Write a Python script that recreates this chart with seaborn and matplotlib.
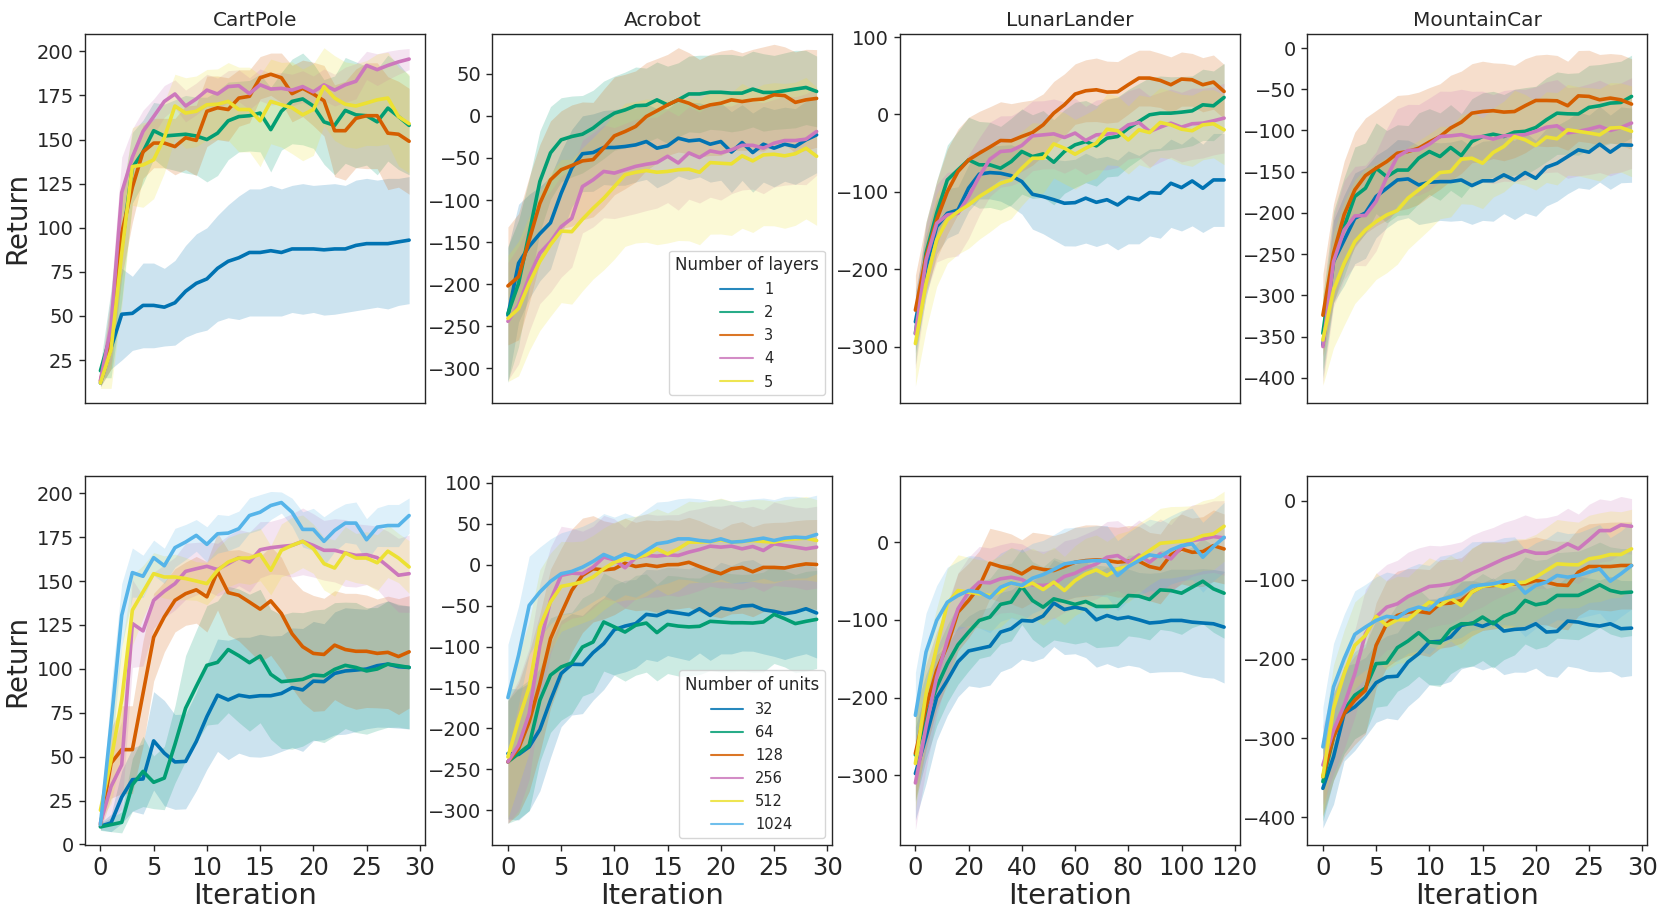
import matplotlib
matplotlib.use("Agg")
import matplotlib.pyplot as plt
import numpy as np
import pandas as pd
import seaborn as sns
from matplotlib.lines import Line2D

# ---------------- data ----------------
ITER_30 = list(range(30))
ITER_LL = list(range(0, 120, 4))

LAYER_LABELS = ["1", "2", "3", "4", "5"]
UNIT_LABELS = ["32", "64", "128", "256", "512", "1024"]

ENV_TITLES = ["CartPole", "Acrobot", "LunarLander", "MountainCar"]

# ---- top row: number of layers ----
CP_LAYERS_MEAN = {
    "1": [12, 32, 51, 51.5, 56, 56, 55, 57.5, 64, 68.5, 71, 77, 81, 83, 86, 86, 87, 86, 88, 88, 88, 87.5, 88, 88, 90, 91, 91, 91, 92, 93],
    "2": [19, 40, 89, 134, 143, 155, 152, 152.5, 153, 152, 150, 153.6, 160.6, 163, 163.5, 165, 155.6, 166, 171.6, 173, 169, 160, 158, 166.5, 164, 163.5, 160, 167.8, 163, 158],
    "3": [13, 40, 97, 123, 143, 148, 148, 146, 151, 149.5, 166, 168, 167, 173.5, 174.5, 185, 187, 185, 176, 179, 175.8, 172, 155, 155, 162, 163.5, 163.5, 153.6, 153, 149],
    "4": [13.6, 44, 120, 140, 154.6, 163, 171.6, 175.8, 169, 173, 178, 175.8, 180, 180.5, 176, 181, 178.6, 179, 178, 180, 177, 181, 178, 181, 183, 192, 189.6, 192, 194, 195.6],
    "5": [12, 31, 85.5, 134.7, 135.6, 138.5, 151, 169, 165, 166, 169.7, 170, 171.6, 167, 167, 160.6, 171.6, 169.7, 168, 164, 167, 180, 173.5, 170, 169, 170.7, 172.5, 173.5, 163, 159],
}
CP_LAYERS_SD = {
    "1": [2, 12, 26, 21, 24, 24, 22, 24, 26, 28, 29, 30, 32, 35, 36, 36, 37, 36, 36, 37, 36, 37, 37, 36, 37, 37, 36, 37, 36, 36],
    "2": [4, 25, 30, 20, 18, 16, 18, 20, 22, 22, 24, 24, 22, 20, 20, 22, 24, 22, 24, 26, 24, 24, 28, 30, 30, 28, 30, 30, 30, 28],
    "3": [3, 20, 25, 20, 15, 14, 14, 16, 18, 20, 20, 18, 18, 16, 15, 12, 12, 14, 16, 16, 18, 20, 26, 28, 28, 30, 30, 32, 30, 30],
    "4": [3, 20, 20, 16, 12, 10, 9, 8, 9, 9, 9, 9, 9, 9, 9, 9, 9, 9, 9, 9, 9, 9, 9, 10, 10, 8, 9, 8, 7, 6],
    "5": [3, 22, 30, 22, 24, 22, 20, 18, 20, 20, 20, 20, 22, 24, 24, 26, 24, 24, 26, 26, 26, 22, 24, 24, 24, 24, 26, 26, 28, 28],
}

AC_LAYERS_MEAN = {
    "1": [-237, -175, -155, -140, -127, -92, -62, -45, -43.6, -37.6, -37.6, -36.4, -34.5, -30.5, -38.4, -35.6, -26.5, -29.7, -28.5, -33.7, -30.5, -43, -31.7, -43.6, -33.7, -38.4, -33.7, -36.4, -28.5, -22.6],
    "2": [-235, -199, -139.5, -78, -44, -28.5, -24.5, -21.8, -14.6, -4.7, 3.2, 7, 12, 12.7, 19, 13, 19, 26, 26, 28, 28, 27, 27, 31.8, 27.8, 27.8, 29.8, 31.8, 33.7, 29],
    "3": [-202, -191, -147.5, -104, -76, -64, -59, -53.5, -52, -38.4, -23.8, -18.6, -12.6, -0.8, 6, 13, 19, 15, 9, 13, 15, 19, 17, 19, 20, 25, 24, 16, 19, 20.7],
    "4": [-244, -225, -191, -163, -149.5, -131.6, -121.7, -84, -76, -66, -68, -64, -60, -57.5, -55.5, -48, -56, -44, -49.5, -41.6, -44, -40.4, -35, -35, -38.4, -32.5, -29.3, -29.3, -27.7, -18.6],
    "5": [-240.6, -228.8, -199, -173, -153, -136.8, -137.6, -122.9, -109.8, -97.9, -84, -70, -67, -65, -67, -66, -64, -63.4, -67, -55.5, -56.3, -57, -47.5, -53.5, -46.4, -45.6, -47.5, -45, -38.4, -48],
}
AC_LAYERS_SD = {
    "1": [80, 70, 62, 56, 55, 50, 46, 45, 46, 44, 45, 46, 44, 45, 47, 44, 45, 46, 44, 45, 46, 48, 45, 47, 45, 46, 44, 45, 46, 45],
    "2": [80, 75, 65, 60, 55, 50, 48, 46, 45, 46, 44, 45, 46, 44, 45, 46, 44, 45, 46, 44, 45, 46, 44, 45, 46, 44, 45, 46, 44, 42],
    "3": [70, 75, 75, 70, 70, 70, 72, 70, 68, 70, 70, 68, 66, 64, 62, 60, 62, 60, 58, 60, 62, 60, 58, 60, 62, 60, 58, 60, 60, 58],
    "4": [70, 70, 65, 60, 60, 60, 58, 55, 56, 55, 54, 55, 56, 55, 54, 55, 56, 55, 54, 55, 56, 52, 53, 52, 54, 52, 53, 52, 54, 52],
    "5": [75, 80, 80, 82, 85, 85, 86, 85, 84, 85, 86, 85, 84, 85, 86, 85, 84, 85, 86, 85, 84, 85, 86, 85, 84, 85, 86, 85, 84, 82],
}

LL_LAYERS_MEAN = {
    "1": [-267.7, -196.5, -144.8, -127.6, -123.3, -95, -77, -75, -75.9, -79, -86.6, -103, -106, -110, -114.6, -113.8, -108, -113.4, -110, -116.8, -107, -110, -100.8, -101.7, -88.8, -94.4, -85.8, -95.3, -84.5, -84.5],
    "2": [-282.8, -179, -127.6, -84.5, -71.5, -58.6, -65, -65, -69.4, -60.8, -47.8, -54.3, -50.9, -61.6, -47.8, -39.2, -35, -40.5, -30.6, -28.4, -17.7, -9, -0.4, 1.7, 1.7, 3, 4.7, 12.5, 11.2, 22],
    "3": [-252.6, -183.6, -136, -99.6, -73.7, -58.6, -50, -42, -33.6, -34, -28.4, -23.3, -13.4, 1.7, 12.5, 26.3, 30.6, 31.9, 28.9, 29.3, 38.4, 47, 47, 44, 38.4, 45.7, 44.8, 38.4, 41.8, 29.7],
    "4": [-283, -188, -140.5, -129.7, -127.6, -106, -80, -57.8, -47.8, -46.6, -40, -27.6, -26.3, -25, -29.7, -24, -33.6, -26.3, -25.4, -23.3, -13.4, -10.3, -22, -16.4, -11.2, -16.4, -12, -11.2, -8.2, -4.7],
    "5": [-295.7, -218, -162, -136, -125.4, -116.8, -106, -97.4, -88.8, -84.5, -69.4, -56.5, -56.5, -38, -43.5, -51.3, -43.5, -37, -19, -21, -32.8, -19.8, -23.3, -10.3, -13.4, -19, -21, -13.4, -12, -19.8],
}
LL_LAYERS_SD = {
    "1": [40, 40, 35, 32, 30, 30, 32, 34, 36, 40, 42, 45, 48, 52, 55, 56, 58, 57, 56, 58, 60, 57, 56, 58, 57, 56, 58, 57, 60, 60],
    "2": [40, 40, 42, 45, 50, 55, 56, 55, 54, 56, 55, 54, 56, 55, 54, 55, 53, 52, 50, 51, 50, 49, 48, 48, 47, 46, 45, 46, 45, 44],
    "3": [45, 45, 50, 55, 55, 55, 54, 52, 50, 48, 45, 42, 40, 41, 40, 39, 40, 41, 40, 39, 38, 36, 36, 35, 36, 35, 34, 35, 35, 35],
    "4": [45, 45, 50, 55, 55, 54, 50, 48, 46, 45, 46, 45, 44, 45, 46, 45, 44, 45, 46, 45, 44, 45, 46, 45, 44, 45, 46, 45, 44, 45],
    "5": [55, 60, 60, 56, 55, 56, 55, 54, 52, 50, 48, 46, 45, 44, 46, 45, 44, 45, 46, 45, 44, 45, 46, 45, 44, 45, 46, 45, 44, 45],
}

MC_LAYERS_MEAN = {
    "1": [-360, -259, -233, -206.5, -200, -180, -170, -160, -158.7, -166, -162.8, -162, -162, -160, -166.8, -161, -161, -153.8, -160, -151, -158, -144.5, -139.7, -131.6, -123.5, -126.3, -116.6, -126.3, -117.4, -117.8],
    "2": [-346, -253, -216.6, -180, -170, -145.7, -156, -148, -148, -133.6, -125.5, -131.6, -120.6, -130.4, -113.4, -107.3, -104.5, -107.3, -102, -101, -96.4, -87, -79, -79.8, -80, -72, -70, -66.8, -66, -58.7],
    "3": [-324, -249, -202, -172, -154.7, -145.7, -137.7, -127.5, -125.5, -121.5, -114, -107.3, -97, -90, -79, -77, -76, -77.7, -77, -70, -63.6, -63.6, -64, -70, -58, -58.7, -62.8, -60.7, -62.8, -68],
    "4": [-362, -259, -220.6, -203.6, -203, -186, -156.7, -131.6, -124.3, -123.5, -116.6, -107.3, -106.5, -105, -108.5, -107.3, -110.5, -106.5, -106, -105, -101, -96, -94.3, -103, -101, -98.4, -95, -100, -96.4, -91],
    "5": [-354, -293.5, -261, -234.8, -220.6, -210.5, -202.4, -197, -182, -172, -162, -151, -149.8, -134.8, -133.6, -139.7, -126.7, -119.4, -107.3, -111.3, -118.2, -108, -110, -99.2, -101, -103, -105.3, -97, -96.4, -101],
}
MC_LAYERS_SD = {
    "1": [40, 50, 55, 55, 55, 50, 48, 49, 47, 48, 49, 47, 48, 49, 47, 48, 49, 47, 48, 49, 46, 47, 46, 45, 46, 45, 46, 45, 46, 45],
    "2": [45, 55, 60, 60, 55, 55, 56, 55, 54, 55, 52, 53, 52, 51, 52, 53, 52, 51, 52, 53, 50, 51, 50, 49, 50, 51, 50, 49, 50, 50],
    "3": [50, 60, 65, 70, 70, 70, 71, 70, 69, 68, 66, 64, 64, 62, 60, 61, 58, 59, 56, 57, 55, 56, 55, 54, 55, 56, 55, 54, 55, 55],
    "4": [45, 55, 60, 60, 61, 60, 59, 58, 56, 55, 56, 55, 54, 55, 56, 55, 54, 55, 56, 55, 54, 55, 56, 55, 54, 55, 56, 55, 54, 55],
    "5": [55, 70, 75, 75, 75, 70, 70, 65, 62, 60, 58, 56, 55, 54, 56, 55, 54, 55, 56, 55, 54, 55, 56, 55, 54, 55, 56, 55, 54, 55],
}

# ---- bottom row: number of units ----
CP_UNITS_MEAN = {
    "32": [10.4, 12.3, 27, 36.9, 37.3, 59, 52, 47, 47.3, 58.6, 72.8, 85, 82.3, 85, 84, 84.7, 84.7, 86, 89.3, 88, 93, 92.7, 97.4, 98.8, 99.3, 99.9, 101.8, 102.7, 101.2, 100.8],
    "64": [10, 11.3, 12.6, 34, 41.6, 35.4, 37.8, 57, 77.6, 90, 102, 103.7, 111, 107.5, 103.5, 107.3, 96.9, 92.7, 93.3, 94, 96.5, 96, 99.7, 102, 100.8, 98.8, 99.9, 102.7, 101.8, 100.8],
    "128": [11.3, 46.3, 54, 54, 86, 118, 129.6, 139, 142.8, 145, 141, 155.5, 143.4, 141.9, 138, 134, 138.7, 131.5, 120, 112.6, 108.8, 108.2, 113.5, 111, 110, 110, 108.8, 109.4, 107, 109.7],
    "256": [12.3, 33, 45.4, 125.8, 121.6, 139, 144.2, 148.5, 155.5, 157, 158.4, 156.5, 159.9, 163.3, 160.8, 167.8, 169, 169.7, 170.3, 172.6, 170.3, 167.5, 167.5, 166, 164.6, 165, 163.3, 158.4, 153.3, 154.2],
    "512": [19.5, 48.2, 82.3, 133.4, 143.8, 154.2, 152.3, 152.3, 151.4, 150, 148.5, 156.1, 160.8, 163.1, 163.1, 165.2, 156.1, 167.5, 170.3, 172.6, 168.4, 159.9, 157.4, 166, 163.1, 163.1, 160.4, 167, 163.1, 158],
    "1024": [11.3, 69, 130.5, 154.8, 152.7, 163.3, 158.7, 169, 172.2, 176, 170.9, 176.9, 177.3, 179.8, 187.3, 189.2, 193, 194.7, 189.2, 179.4, 179.4, 172.6, 178.8, 183, 183, 173.5, 180.7, 181.6, 181.6, 187.3],
}
CP_UNITS_SD = {
    "32": [2, 5, 15, 18, 20, 28, 30, 27, 27, 28, 30, 32, 34, 33, 34, 35, 34, 33, 34, 35, 34, 33, 35, 36, 35, 34, 35, 36, 35, 35],
    "64": [2, 4, 6, 15, 20, 15, 18, 22, 30, 32, 34, 35, 36, 38, 39, 38, 37, 38, 39, 38, 37, 38, 38, 36, 37, 36, 35, 36, 35, 35],
    "128": [3, 20, 25, 25, 30, 25, 20, 18, 18, 19, 20, 22, 24, 26, 28, 30, 31, 32, 31, 32, 33, 32, 31, 32, 33, 32, 31, 32, 33, 32],
    "256": [3, 20, 25, 25, 20, 16, 15, 15, 16, 15, 14, 15, 16, 16, 17, 16, 15, 16, 18, 19, 18, 17, 18, 19, 18, 17, 18, 20, 21, 22],
    "512": [5, 25, 30, 20, 15, 12, 12, 13, 12, 11, 12, 13, 14, 14, 15, 15, 14, 15, 16, 15, 14, 15, 16, 15, 14, 15, 16, 15, 14, 15],
    "1024": [2, 20, 18, 14, 12, 10, 10, 11, 10, 9, 10, 11, 10, 10, 10, 10, 8, 6, 8, 10, 12, 14, 12, 11, 12, 12, 11, 12, 12, 10],
}

AC_UNITS_MEAN = {
    "32": [-230.8, -232, -222.6, -201.5, -165.7, -133, -121.7, -122, -107.5, -96.5, -79.4, -75, -72, -60.7, -62.3, -57, -59, -61, -53.8, -62, -53, -55, -50.5, -49.7, -55, -57, -59.9, -57.9, -53.8, -59],
    "64": [-241, -230.8, -220.6, -165.7, -135, -125, -120, -100.6, -94.5, -70, -76, -82.3, -74, -71.3, -83, -73, -75, -76, -75.3, -69.2, -70, -70.9, -70.9, -71.3, -70, -60.7, -66, -72, -69.2, -66.8],
    "128": [-241, -224.7, -192, -145.3, -90.4, -59.9, -31.4, -13, -5, -6.3, -5, 1.8, -2.2, -0.2, -2.2, 0, 0.2, 3, -2.2, -7, -11, -5, -3.3, -8.6, -3.3, -3.3, -4, -1.2, 1, 0.3],
    "256": [-241, -220.6, -182, -98.6, -43.6, -13, -10.3, -11, -3, 9.3, 6, -3.7, 8.4, 11.3, 10.5, 12, 11.3, 15.4, 18.6, 22.7, 21.5, 22.7, 19.4, 22.3, 17.4, 25.6, 23.5, 21.5, 19.4, 21.5],
    "512": [-235, -190, -149.4, -76, -45.6, -26.5, -24, -21, -15, -5, 3, 7, 8.4, 12, 19.4, 13.2, 19.4, 27.6, 27.6, 28.4, 30.4, 27.6, 28.4, 29.6, 28.4, 27.6, 30.4, 31.6, 32.5, 29.6],
    "1024": [-162.4, -110.7, -49.7, -33.4, -20.4, -11, -8.2, -3, 4, 12.5, 7.2, 13.3, 9.3, 17.4, 25.6, 27.6, 31.6, 31.6, 29.6, 28.4, 31.6, 27.6, 28.4, 30.4, 32.5, 29.6, 32.5, 33.7, 32.9, 37],
}
AC_UNITS_SD = {
    "32": [80, 80, 78, 75, 70, 65, 62, 60, 58, 56, 55, 56, 54, 55, 56, 54, 55, 56, 54, 55, 56, 54, 55, 56, 54, 55, 56, 54, 55, 55],
    "64": [75, 80, 80, 75, 70, 65, 62, 60, 61, 60, 59, 60, 61, 60, 59, 60, 61, 60, 59, 60, 61, 60, 59, 60, 61, 60, 59, 60, 61, 60],
    "128": [75, 80, 85, 85, 85, 80, 75, 70, 65, 60, 56, 55, 54, 55, 56, 55, 54, 55, 56, 55, 54, 55, 56, 55, 54, 55, 56, 55, 54, 55],
    "256": [75, 80, 80, 75, 65, 60, 55, 52, 50, 51, 50, 49, 50, 51, 50, 49, 50, 51, 50, 49, 50, 51, 50, 49, 50, 51, 50, 49, 50, 50],
    "512": [75, 80, 80, 70, 60, 55, 52, 50, 51, 50, 49, 50, 51, 50, 49, 50, 51, 50, 49, 50, 51, 50, 49, 50, 51, 50, 49, 50, 51, 50],
    "1024": [65, 60, 60, 55, 52, 50, 51, 50, 49, 50, 51, 50, 49, 50, 51, 50, 49, 50, 51, 50, 49, 50, 51, 50, 49, 50, 51, 50, 49, 48],
}

LL_UNITS_MEAN = {
    "32": [-298, -250.7, -200, -178, -154, -140, -137, -134, -115.7, -111.4, -100.7, -101.6, -95, -78.4, -86.6, -83.6, -86.6, -99.9, -94.3, -98.6, -96.4, -99.9, -104, -102.9, -100.7, -100.7, -102.9, -104, -105, -109.3],
    "64": [-274, -225, -186.5, -156.4, -132, -115.7, -100.7, -96.4, -80, -77, -57, -75, -83.6, -72.9, -76.3, -80, -76.3, -82.7, -82.7, -82.3, -68.6, -69.4, -73.7, -61.3, -62.2, -65.6, -57.9, -50.2, -60, -65.6],
    "128": [-272, -212, -165, -132.9, -90, -75, -57, -27, -31.3, -34.3, -40.7, -32.1, -35, -36.4, -31.3, -25.7, -23.6, -22.7, -23.6, -25.7, -24.4, -24.4, -31.3, -34.3, -16.3, -8.6, -12.9, -12, -4.3, -8.6],
    "256": [-310, -238, -173.6, -126.4, -85.7, -64.3, -51.4, -52.3, -47.1, -45, -48, -54.9, -55.7, -53.6, -44.1, -39.9, -33, -27.9, -19.3, -17.1, -25.7, -16.3, -25.7, -15, -21.4, -6.4, 2.1, 4.3, 7.3, 5.6],
    "512": [-285, -195, -135, -79.3, -62.2, -64.3, -66.4, -68.6, -63.4, -51.4, -57, -52.7, -60.9, -51.4, -62.2, -49.3, -40.7, -35.6, -42.9, -34.3, -31.3, -20.1, -10.7, -1.3, 0, 1.3, 3, 8.6, 10.7, 20.6],
    "1024": [-222.9, -141.4, -100.7, -77.2, -68.6, -62.2, -64.3, -71.6, -57.9, -52.3, -55.7, -46.3, -41.6, -35.1, -27.9, -25.7, -24.4, -23.6, -24.4, -42.9, -31.3, -23.6, -16.3, -18.4, -9.9, -4.3, -2.1, -19.3, -5.6, 6.4],
}
LL_UNITS_SD = {
    "32": [60, 60, 55, 45, 45, 45, 50, 50, 51, 50, 50, 52, 54, 56, 58, 60, 62, 61, 62, 63, 62, 61, 64, 64, 66, 66, 68, 70, 70, 72],
    "64": [60, 55, 50, 50, 51, 50, 49, 50, 51, 50, 49, 50, 52, 53, 52, 51, 52, 53, 52, 51, 52, 53, 52, 51, 52, 53, 52, 55, 56, 58],
    "128": [60, 55, 50, 50, 50, 48, 46, 45, 46, 45, 44, 45, 46, 45, 44, 45, 46, 45, 44, 45, 46, 45, 44, 45, 46, 45, 44, 45, 46, 45],
    "256": [60, 55, 50, 48, 46, 45, 46, 45, 44, 45, 46, 45, 44, 45, 46, 45, 44, 45, 46, 45, 44, 45, 46, 45, 44, 45, 46, 45, 46, 48],
    "512": [60, 55, 50, 45, 46, 45, 44, 45, 46, 45, 44, 45, 46, 45, 44, 45, 46, 45, 44, 45, 46, 45, 44, 45, 46, 45, 44, 45, 46, 45],
    "1024": [55, 50, 45, 45, 44, 45, 46, 45, 44, 45, 46, 45, 44, 45, 46, 45, 44, 45, 46, 45, 44, 45, 46, 45, 44, 45, 46, 45, 44, 45],
}

MC_UNITS_MEAN = {
    "32": [-363.4, -323.5, -268.9, -260.5, -248, -230, -222.7, -221.8, -203.8, -193.3, -178.6, -177.7, -172.3, -157.6, -154.6, -158.8, -153.4, -164.7, -162.6, -161.8, -155.5, -166, -165.1, -152.1, -153.4, -156.7, -158.4, -155.5, -161.8, -161],
    "64": [-355, -298.3, -264.7, -245.8, -236.6, -205.9, -205, -185.7, -177.3, -166.8, -178.6, -179.8, -162.6, -155.5, -155.5, -147, -155.5, -145.8, -140.8, -126, -131.5, -129, -119.7, -119.7, -119.7, -113.4, -106.3, -113.4, -116.4, -115.5],
    "128": [-348.7, -298.3, -268.9, -252, -239.5, -182.8, -155.5, -145, -140.8, -140, -142, -130.3, -129.4, -126, -115.5, -108, -107.1, -105.9, -105, -105, -100.8, -102.9, -106.3, -107.1, -90.3, -83.2, -83.2, -83.2, -81.9, -81.9],
    "256": [-334, -290, -258.4, -218.5, -168, -147, -134.5, -130.3, -121, -114.7, -108.4, -107.1, -105, -100, -91.6, -86.1, -79.8, -73.5, -68.5, -63, -66.4, -66.4, -62.2, -54.6, -60.9, -49.6, -37.8, -37.8, -30.7, -32.4],
    "512": [-348.7, -262.6, -218.5, -182.8, -170.2, -146.2, -157.6, -150.4, -150.4, -138.7, -128.2, -132.4, -123.1, -132.4, -115.5, -108.4, -105.9, -109.2, -104.2, -102.9, -96.6, -88.2, -79.8, -80.7, -81.1, -73.5, -71.4, -68, -68, -60.9],
    "1024": [-311, -235.3, -199.6, -168.9, -159.7, -151.3, -146.2, -147.9, -138.7, -134.5, -137.8, -125.2, -121.8, -117.6, -108, -106.3, -105, -101.7, -101.7, -116.8, -107.1, -102.9, -94.5, -96.6, -94.5, -90.3, -86.1, -101.7, -92.4, -81.9],
}
MC_UNITS_SD = {
    "32": [50, 60, 60, 55, 50, 50, 52, 55, 56, 55, 54, 55, 56, 55, 54, 55, 56, 55, 54, 55, 56, 55, 58, 57, 58, 59, 58, 60, 61, 60],
    "64": [50, 55, 55, 55, 56, 55, 54, 55, 56, 55, 54, 55, 56, 55, 54, 55, 56, 55, 54, 55, 56, 55, 54, 55, 56, 55, 54, 55, 56, 55],
    "128": [50, 55, 55, 56, 55, 54, 55, 56, 55, 54, 55, 56, 55, 54, 55, 56, 55, 54, 55, 56, 55, 54, 55, 56, 55, 54, 55, 56, 55, 55],
    "256": [50, 55, 55, 55, 56, 55, 54, 55, 56, 55, 52, 50, 50, 48, 48, 48, 46, 46, 45, 45, 44, 45, 44, 45, 44, 45, 40, 38, 36, 35],
    "512": [50, 55, 55, 55, 54, 55, 56, 55, 54, 55, 56, 55, 54, 55, 56, 55, 54, 55, 56, 55, 54, 55, 56, 55, 54, 55, 56, 55, 54, 50],
    "1024": [50, 55, 56, 55, 54, 55, 56, 55, 54, 55, 56, 55, 54, 55, 56, 55, 54, 55, 56, 55, 54, 55, 56, 55, 54, 55, 56, 55, 54, 55],
}

# ---------------- style ----------------
sns.set_theme(style="ticks")
plt.rcParams["font.family"] = ["DejaVu Sans"]
plt.rcParams["axes.edgecolor"] = "0.15"
plt.rcParams["axes.linewidth"] = 1.0

PALETTE = sns.color_palette("colorblind")
LAYER_COLORS = dict(zip(LAYER_LABELS, [PALETTE[0], PALETTE[2], PALETTE[3], PALETTE[4], PALETTE[8]]))
UNIT_COLORS = dict(zip(UNIT_LABELS, [PALETTE[0], PALETTE[2], PALETTE[3], PALETTE[4], PALETTE[8], PALETTE[9]]))

panels = [
    # row 0
    dict(r=0, c=0, it=ITER_30, m=CP_LAYERS_MEAN, s=CP_LAYERS_SD, lab=LAYER_LABELS, col=LAYER_COLORS,
         ylim=(0.9, 209.8), yt=np.arange(25, 201, 25), xt=None),
    dict(r=0, c=1, it=ITER_30, m=AC_LAYERS_MEAN, s=AC_LAYERS_SD, lab=LAYER_LABELS, col=LAYER_COLORS,
         ylim=(-340.6, 97.2), yt=np.arange(-300, 51, 50), xt=None, legend="Number of layers"),
    dict(r=0, c=2, it=ITER_LL, m=LL_LAYERS_MEAN, s=LL_LAYERS_SD, lab=LAYER_LABELS, col=LAYER_COLORS,
         ylim=(-372, 103.9), yt=np.arange(-300, 101, 100), xt=None),
    dict(r=0, c=3, it=ITER_30, m=MC_LAYERS_MEAN, s=MC_LAYERS_SD, lab=LAYER_LABELS, col=LAYER_COLORS,
         ylim=(-430, 17), yt=np.arange(-400, 1, 50), xt=None),
    # row 1
    dict(r=1, c=0, it=ITER_30, m=CP_UNITS_MEAN, s=CP_UNITS_SD, lab=UNIT_LABELS, col=UNIT_COLORS,
         ylim=(-0.3, 209.6), yt=np.arange(0, 201, 25), xt=np.arange(0, 31, 5)),
    dict(r=1, c=1, it=ITER_30, m=AC_UNITS_MEAN, s=AC_UNITS_SD, lab=UNIT_LABELS, col=UNIT_COLORS,
         ylim=(-342.6, 108), yt=np.arange(-300, 101, 50), xt=np.arange(0, 31, 5), legend="Number of units"),
    dict(r=1, c=2, it=ITER_LL, m=LL_UNITS_MEAN, s=LL_UNITS_SD, lab=UNIT_LABELS, col=UNIT_COLORS,
         ylim=(-390, 84.9), yt=np.arange(-300, 1, 100), xt=np.arange(0, 121, 20)),
    dict(r=1, c=3, it=ITER_30, m=MC_UNITS_MEAN, s=MC_UNITS_SD, lab=UNIT_LABELS, col=UNIT_COLORS,
         ylim=(-435, 30.7), yt=np.arange(-400, 1, 100), xt=np.arange(0, 31, 5)),
]

fig, axes = plt.subplots(2, 4, figsize=(16.8, 9.14), dpi=100)
fig.subplots_adjust(left=85 / 1680, right=1647 / 1680, bottom=1 - 845 / 914, top=1 - 34 / 914,
                    wspace=0.2, hspace=0.2)

for p in panels:
    ax = axes[p["r"], p["c"]]
    rows = []
    for lab in p["lab"]:
        for it, mu, sd in zip(p["it"], p["m"][lab], p["s"][lab]):
            rows.append({"Iteration": it, "Return": mu, "low": mu - sd, "high": mu + sd, "group": lab})
    df = pd.DataFrame(rows)
    for lab in p["lab"]:
        d = df[df["group"] == lab]
        ax.fill_between(d["Iteration"], d["low"], d["high"], color=p["col"][lab],
                        alpha=0.2, linewidth=0, zorder=1)
    sns.lineplot(data=df, x="Iteration", y="Return", hue="group", hue_order=p["lab"],
                 palette=p["col"], linewidth=2.6, legend=False, errorbar=None, ax=ax)
    ax.set_ylim(*p["ylim"])
    ax.set_yticks(p["yt"])
    ax.tick_params(axis="y", labelsize=14, length=4.5, width=1)
    if p["xt"] is None:
        ax.set_xticks([])
        ax.tick_params(axis="x", bottom=False, labelbottom=False)
        ax.set_xlabel("")
        ax.set_title(ENV_TITLES[p["c"]], fontsize=14.5)
    else:
        ax.set_xticks(p["xt"])
        ax.tick_params(axis="x", labelsize=17.5, length=4.5, width=1)
        ax.set_xlabel("Iteration", fontsize=21, labelpad=1)
    if p["c"] == 0:
        ax.set_ylabel("Return", fontsize=20)
    else:
        ax.set_ylabel("")
    for sp in ax.spines.values():
        sp.set_visible(True)
        sp.set_color("0.15")
    if "legend" in p:
        handles = [Line2D([0], [0], color=p["col"][lab], lw=1.5, alpha=0.85) for lab in p["lab"]]
        leg = ax.legend(handles, p["lab"], title=p["legend"], loc="lower right",
                        fontsize=10.5, title_fontsize=12, labelspacing=0.55,
                        handlelength=2.2, frameon=True)
        leg.get_frame().set_edgecolor("0.8")

fig.savefig("out.png", dpi=100)
